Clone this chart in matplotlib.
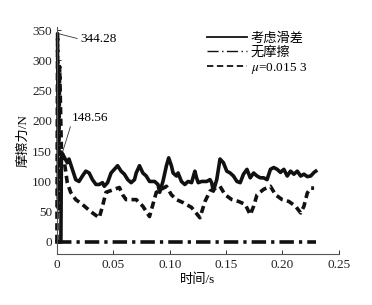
import matplotlib
matplotlib.use("Agg")
import matplotlib.pyplot as plt
from matplotlib.lines import Line2D

plt.rcParams["font.family"] = ["Liberation Serif", "Noto Sans CJK SC"]
plt.rcParams["mathtext.fontset"] = "stix"
plt.rcParams["font.size"] = 9.5

# 考虑滑差 (solid)
t_slip = [0.0, 0.0035, 0.004, 0.0092, 0.0107, 0.0137, 0.0167, 0.0196, 0.0226, 0.0256,
          0.0286, 0.0315, 0.0346, 0.0375, 0.0404, 0.042, 0.0449, 0.048, 0.0509, 0.0538,
          0.0569, 0.0598, 0.0628, 0.0658, 0.0688, 0.0703, 0.0732, 0.0762, 0.0792, 0.0821,
          0.0866, 0.0896, 0.0911, 0.094, 0.0971, 0.0991, 0.1015, 0.103, 0.106, 0.1074,
          0.1104, 0.1134, 0.1163, 0.1194, 0.1223, 0.1238, 0.1253, 0.1283, 0.1328, 0.1357,
          0.1372, 0.1387, 0.1417, 0.1446, 0.1476, 0.1506, 0.1536, 0.1565, 0.1596, 0.1625,
          0.1654, 0.1685, 0.1714, 0.1744, 0.1774, 0.1804, 0.1833, 0.1863, 0.1893, 0.1922,
          0.1953, 0.1982, 0.2012, 0.2042, 0.2071, 0.2101, 0.2131, 0.2161, 0.219, 0.222,
          0.225, 0.228, 0.2295]
f_slip = [0, 0, 148.56, 131, 137, 120, 103, 100, 109, 117,
          114, 103, 95, 95, 98, 92, 98, 114, 120, 126,
          117, 112, 103, 98, 103, 114, 126, 114, 109, 100,
          100, 95, 82, 100, 126, 139, 126, 114, 109, 114,
          100, 95, 100, 98, 117, 106, 98, 100, 100, 103,
          98, 84, 103, 137, 131, 117, 114, 109, 100, 98,
          112, 120, 106, 114, 109, 106, 106, 103, 120, 123,
          120, 115, 120, 109, 117, 112, 117, 109, 112, 108,
          109, 115, 117]

# 无摩擦 (dash-dot)
t_free = [0.0, 0.23]
f_free = [0, 0]

# mu = 0.0153 (dashed)
t_mu = [0.0, 0.0006, 0.0014, 0.0024, 0.004, 0.006, 0.0092, 0.0122, 0.0167, 0.0226,
        0.0301, 0.0375, 0.0404, 0.0435, 0.0494, 0.0554, 0.0583, 0.0613, 0.0703, 0.0762,
        0.0821, 0.0851, 0.0881, 0.0971, 0.1015, 0.106, 0.1119, 0.1194, 0.1268, 0.1313,
        0.1357, 0.1384, 0.1446, 0.1491, 0.1551, 0.161, 0.167, 0.1714, 0.1744, 0.1774,
        0.1833, 0.1893, 0.1938, 0.1997, 0.2056, 0.2116, 0.2161, 0.219, 0.222, 0.225, 0.228]
f_mu = [0, 344.28, 55, 290, 150, 140, 98, 82, 70, 62,
        50, 40, 59, 82, 86, 90, 78, 70, 70, 59,
        42, 62, 82, 92, 78, 70, 65, 57, 40, 67,
        84, 87, 92, 78, 70, 67, 62, 45, 59, 78,
        87, 92, 78, 70, 67, 59, 48, 59, 81, 89, 89]

labels = ["考虑滑差", "无摩擦", "$\\mu$=0.015 3"]

fig = plt.figure(figsize=(3.72, 3.05), dpi=100)
ax = fig.add_axes([0.153, 0.167, 0.758, 0.744])

ax.plot(t_mu, f_mu, color="#111111", lw=2.6, ls=(0, (2.0, 1.2)), clip_on=False)
ax.plot(t_slip, f_slip, color="#111111", lw=2.6, clip_on=False)
ax.plot(t_free, f_free, color="#111111", lw=2.6, ls=(0, (4, 1.4, 0.9, 1.4)), clip_on=False)

ax.set_xlim(0, 0.25)
ax.set_ylim(-20, 355)
ax.set_xticks([0, 0.05, 0.10, 0.15, 0.20, 0.25])
ax.set_xticklabels(["0", "0.05", "0.10", "0.15", "0.20", "0.25"])
ax.set_yticks(range(0, 351, 50))
ax.tick_params(direction="in", length=3, width=0.7, colors="#333333", labelcolor="#222222")
for side in ("top", "right"):
    ax.spines[side].set_visible(False)
for side in ("left", "bottom"):
    ax.spines[side].set_color("#555555")
    ax.spines[side].set_linewidth(0.8)

ax.set_xlabel("时间/s", labelpad=2)
ax.set_ylabel("摩擦力/N", labelpad=2)

arrow = dict(arrowstyle="-", lw=0.6, color="#333333", relpos=(0, 0.5), shrinkA=0, shrinkB=0)
ax.annotate("344.28", xy=(0.0012, 344.28), xytext=(0.0205, 335), ha="left", va="center",
            arrowprops=arrow)
ax.annotate("148.56", xy=(0.005, 148.56), xytext=(0.0134, 205), ha="left", va="center",
            arrowprops=dict(arrow, relpos=(0, 0.2)))

handles = [
    Line2D([], [], color="#111111", lw=1.3),
    Line2D([], [], color="#111111", lw=1.0, ls=(0, (8, 2.5, 1, 2.5))),
    Line2D([], [], color="#111111", lw=1.3, ls=(0, (3.5, 2))),
]
ax.legend(handles, labels, loc="upper left", bbox_to_anchor=(0.5, 1.02), frameon=False,
          handlelength=3.0, handletextpad=0.3, labelspacing=0.15, borderpad=0.2,
          fontsize=9.5)

fig.savefig("out.png", dpi=100)
